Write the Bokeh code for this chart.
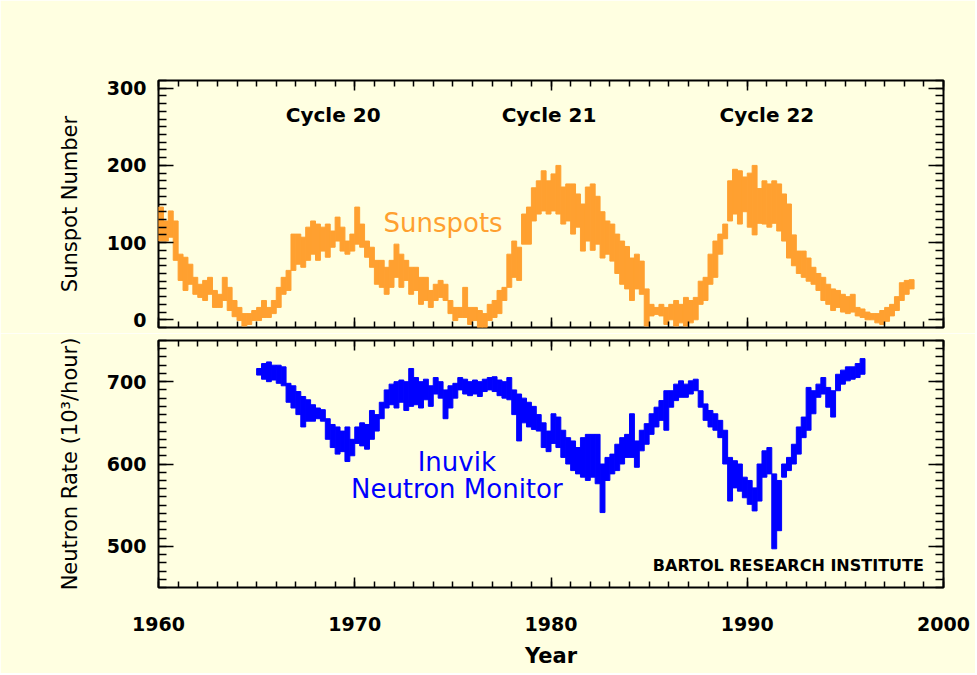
import numpy as np
from bokeh.plotting import figure
from bokeh.layouts import column
from bokeh.models import (Range1d, LinearAxis, SingleIntervalTicker, Label,
                          ColumnDataSource, CustomJSTickFormatter)
from bokeh.embed import file_html
from bokeh.resources import INLINE

BG = "#FFFFE1"
ORANGE = "#FFA030"
BLUE = "#0000FF"

# Quarterly sunspot number envelope (low, high), starting 1960.00
sunspot_start = 1960.0
sunspot_lo = [
    102, 102, 107, 77,   51, 38, 46, 33,   29, 25, 33, 16,   16, 25, 12, 4,
    -1, -8, -6, -1,      -1, 3, 3, 8,      16, 33, 38, 64,   72, 68, 77, 85,
    77, 89, 81, 94,      102, 89, 85, 89,  98, 94, 81, 68,   46, 42, 33, 42,
    55, 42, 51, 33,      38, 20, 25, 16,   25, 29, 25, 8,    -1, 3, 3, -6,
    -1, -10, -10, -1,    3, 8, 25, 42,     55, 51, 98, 98,   128, 137, 141, 137,
    141, 137, 124, 128,  111, 120, 89, 102, 90, 98, 80, 85,  76, 60, 46, 40,
    25, 40, 33, -8,      5, 7, 5, -6,      0, -8, -4, -8,    -4, 0, 20, 25,
    46, 55, 85, 105,     128, 137, 124, 140, 120, 110, 125, 124, 120, 125, 115, 102,
    80, 70, 60, 55,      50, 46, 38, 25,   20, 12, 16, 10,   8, 10, 5, 3,
    0, 0, -4, -6,        -2, 5, 12, 25,    33, 40,
]
sunspot_hi = [
    146, 128, 141, 128,  85, 81, 72, 55,   46, 51, 55, 38,   33, 55, 42, 25,
    16, 8, 8, 12,        16, 25, 16, 25,   42, 55, 64, 111,  111, 107, 120, 128,
    124, 120, 124, 115,  133, 120, 102, 111, 146, 124, 102, 94, 77, 77, 68, 77,
    98, 85, 77, 68,      68, 55, 55, 38,   46, 51, 46, 25,   16, 16, 42, 16,
    16, 12, 8, 20,       25, 38, 42, 85,   102, 94, 137, 146, 171, 180, 193, 180,
    189, 200, 172, 176,  176, 163, 150, 172, 176, 160, 140, 128, 124, 111, 102, 95,
    80, 85, 76, 40,      20, 16, 20, 16,   20, 25, 20, 29,   25, 29, 50, 55,
    85, 102, 111, 124,   180, 195, 193, 185, 190, 200, 170, 180, 176, 180, 176, 163,
    150, 110, 89, 89,    80, 68, 60, 55,   46, 40, 38, 33,   30, 33, 16, 14,
    10, 8, 8, 12,        16, 20, 30, 48,   51, 52,
]

# Quarterly Inuvik neutron rate envelope (low, high), starting 1965.00
neutron_start = 1965.0
neutron_lo = [
    708, 703, 700, 702,  698, 695, 675, 668,  660, 645, 652, 652,  655, 652, 630, 620,
    612, 615, 603, 610,  625, 622, 618, 630,  640, 655, 668, 672,  668, 675, 665, 670,
    672, 668, 678, 670,  685, 680, 655, 668,  680, 690, 685, 683,  685, 682, 688, 690,
    688, 683, 680, 678,  660, 628, 650, 645,  642, 640, 620, 615,  625, 620, 608, 600,
    592, 588, 584, 580,  584, 576, 541, 580,  588, 592, 600, 608,  608, 596, 616, 624,
    636, 645, 653, 641,  669, 677, 681, 681,  685, 689, 669, 653,  645, 641, 632, 600,
    555, 571, 567, 559,  551, 543, 555, 584,  588, 497, 519, 584,  592, 600, 612, 632,
    641, 661, 681, 685,  669, 657, 689, 697,  701, 703, 705, 709,
]
neutron_hi = [
    716, 722, 724, 720,  720, 718, 698, 695,  688, 682, 678, 672,  668, 666, 655, 648,
    645, 640, 645, 630,  645, 650, 648, 665,  660, 675, 690, 697,  700, 702, 700, 716,
    705, 700, 703, 695,  705, 700, 690, 695,  698, 705, 703, 700,  702, 700, 703, 705,
    706, 702, 700, 705,  690, 685, 680, 675,  670, 660, 650, 640,  661, 657, 641, 632,
    628, 620, 632, 636,  636, 636, 600, 608,  612, 624, 632, 636,  661, 628, 641, 649,
    661, 669, 677, 689,  689, 697, 701, 697,  701, 703, 689, 673,  665, 661, 653, 641,
    608, 604, 600, 584,  580, 571, 600, 616,  620, 588, 580, 600,  608, 624, 645, 657,
    693, 689, 697, 705,  693, 689, 709, 714,  718, 718, 722, 728,
]

QUARTER = 0.25
ss_src = ColumnDataSource(dict(
    t=sunspot_start + QUARTER * np.arange(len(sunspot_lo)) + QUARTER / 2,
    lo=sunspot_lo, hi=sunspot_hi))
nm_src = ColumnDataSource(dict(
    t=neutron_start + QUARTER * np.arange(len(neutron_lo)) + QUARTER / 2,
    lo=neutron_lo, hi=neutron_hi))

FONT = "DejaVu Sans"
x_range = Range1d(1960, 2000)
WIDTH = 975


def make_fig(height, y_range, border_top, border_bottom):
    p = figure(width=WIDTH, height=height, x_range=x_range, y_range=y_range,
               output_backend="svg", toolbar_location=None,
               x_axis_location=None, y_axis_location=None,
               min_border_left=158, min_border_right=WIDTH - 158 - 785,
               min_border_top=border_top, min_border_bottom=border_bottom,
               background_fill_color=BG, border_fill_color=BG)
    p.grid.visible = False
    p.outline_line_color = "black"
    p.outline_line_width = 2
    return p


def add_axis(p, place, interval, major_len, minor_len, show_labels):
    ax = LinearAxis(ticker=SingleIntervalTicker(interval=interval, num_minor_ticks=10))
    ax.axis_line_color = None
    ax.major_tick_in = major_len
    ax.major_tick_out = 0
    ax.minor_tick_in = minor_len
    ax.minor_tick_out = 0
    ax.major_tick_line_color = "black"
    ax.minor_tick_line_color = "black"
    ax.major_tick_line_width = 1.5
    ax.minor_tick_line_width = 1.5
    if show_labels:
        ax.major_label_text_font = FONT
        ax.major_label_text_font_style = "bold"
        ax.major_label_text_font_size = "19px"
        ax.major_label_text_color = "black"
    else:
        ax.formatter = CustomJSTickFormatter(code="return '';")
        ax.major_label_standoff = 0
    ax.axis_label_text_color = "black"
    p.add_layout(ax, place)
    return ax


# ---------------- top panel: sunspots ----------------
p1 = make_fig(333, Range1d(-10, 310), 80, 6)
p1.vbar(x="t", bottom="lo", top="hi", width=QUARTER, source=ss_src,
        fill_color=ORANGE, line_color=ORANGE, line_width=1)
ly1 = add_axis(p1, "left", 100, 15, 8, True)
ly1.major_label_standoff = 12
ly1.axis_label = "Sunspot Number"
ly1.axis_label_text_font = FONT
ly1.axis_label_text_font_style = "normal"
ly1.axis_label_text_font_size = "21px"
ly1.axis_label_standoff = 22
add_axis(p1, "right", 100, 15, 8, False)
add_axis(p1, "above", 10, 10, 6, False)
add_axis(p1, "below", 10, 10, 6, False)

for xx, txt in [(1968.9, "Cycle 20"), (1979.9, "Cycle 21"), (1991.0, "Cycle 22")]:
    p1.add_layout(Label(x=xx, y=265, text=txt, text_align="center", text_baseline="middle",
                        text_font=FONT, text_font_style="bold", text_font_size="20px",
                        text_color="black"))
p1.add_layout(Label(x=1974.5, y=125, text="Sunspots", text_align="center", text_baseline="middle",
                    text_font=FONT, text_font_size="26px", text_color=ORANGE))

# ---------------- bottom panel: neutron monitor ----------------
p2 = make_fig(340, Range1d(450, 750), 7, 86)
p2.vbar(x="t", bottom="lo", top="hi", width=QUARTER, source=nm_src,
        fill_color=BLUE, line_color=BLUE, line_width=1)
ly2 = add_axis(p2, "left", 100, 15, 8, True)
ly2.major_label_standoff = 12
ly2.axis_label = "Neutron Rate (10³/hour)"
ly2.axis_label_text_font = FONT
ly2.axis_label_text_font_style = "normal"
ly2.axis_label_text_font_size = "21px"
ly2.axis_label_standoff = 22
add_axis(p2, "right", 100, 15, 8, False)
add_axis(p2, "above", 10, 10, 6, False)
lx2 = add_axis(p2, "below", 10, 10, 6, True)
lx2.major_label_standoff = 29
lx2.axis_label = "Year"
lx2.axis_label_text_font = FONT
lx2.axis_label_text_font_style = "bold"
lx2.axis_label_text_font_size = "21px"
lx2.axis_label_standoff = 10

p2.add_layout(Label(x=1975.2, y=602, text="Inuvik", text_align="center", text_baseline="middle",
                    text_font=FONT, text_font_size="26px", text_color=BLUE))
p2.add_layout(Label(x=1975.2, y=570, text="Neutron Monitor", text_align="center", text_baseline="middle",
                    text_font=FONT, text_font_size="26px", text_color=BLUE))
p2.add_layout(Label(x=1999.0, y=477, text="BARTOL RESEARCH INSTITUTE", text_align="right",
                    text_baseline="middle", text_font=FONT, text_font_style="bold",
                    text_font_size="16px", text_color="black"))

layout = column(p1, p2, spacing=0)
open("out.html", "w").write(file_html(layout, INLINE))
